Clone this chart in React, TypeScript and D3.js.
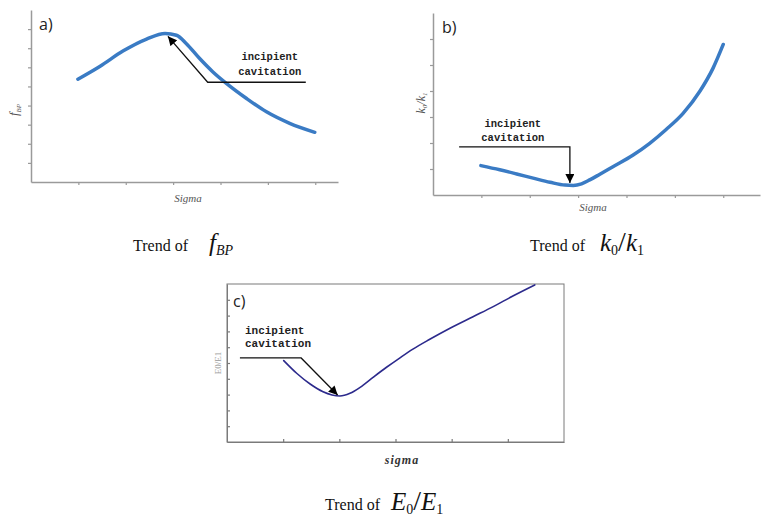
import { useRef, useEffect } from "react";
import * as d3 from "d3";

// panel a: f_BP vs sigma
const A_SIGMA = [0.99, 1.46, 1.94, 2.44, 2.83, 3.07, 3.28, 3.56, 3.84, 4.13, 4.55, 4.97, 5.46, 5.99];
const A_FBP = [5.38, 6.06, 6.85, 7.48, 7.77, 7.68, 7.24, 6.46, 5.76, 5.15, 4.37, 3.67, 3.07, 2.6];
const A_XTICKS = [1, 2, 3, 4, 5, 6];
const A_YTICKS = [1, 2, 3, 4, 5, 6, 7, 8];
const A_ARROW = [[5.8, 5.22], [3.73, 5.22], [2.89, 7.62]];

// panel b: k0/k1 vs sigma
const B_SIGMA = [0.99, 1.38, 1.73, 2.07, 2.42, 2.73, 2.9, 3.07, 3.24, 3.45, 3.72, 4.13, 4.48, 4.82, 5.17, 5.52, 5.79, 6.0];
const B_K = [1.13, 0.97, 0.81, 0.65, 0.49, 0.38, 0.37, 0.43, 0.58, 0.8, 1.09, 1.53, 1.99, 2.52, 3.14, 4.0, 4.88, 5.79];
const B_XTICKS = [1, 2, 3, 4, 5, 6];
const B_YTICKS = [1, 2, 3, 4, 5, 6];
const B_ARROW = [[0.54, 1.85], [2.83, 1.85], [2.83, 0.46]];

// panel c: E0/E1 vs sigma
const C_SIGMA = [1.01, 1.24, 1.48, 1.71, 2.01, 2.19, 2.37, 2.6, 2.84, 3.08, 3.31, 3.61, 3.97, 4.38, 4.74, 5.09, 5.48];
const C_E = [5.15, 4.35, 3.67, 3.18, 2.91, 3.08, 3.46, 4.09, 4.73, 5.33, 5.88, 6.5, 7.2, 7.93, 8.57, 9.24, 9.94];
const C_XTICKS = [1, 2, 3, 4, 5];
const C_YTICKS = [1, 2, 3, 4, 5, 6, 7, 8, 9];
const C_ARROW = [[0.23, 5.32], [1.32, 5.32], [1.97, 2.97]];

const NOTE = ["incipient", "cavitation"];
const SERIF = "'Liberation Serif', 'Times New Roman', serif";
const MONO = "'Liberation Mono', 'DejaVu Sans Mono', monospace";

type Sel = d3.Selection<SVGSVGElement, unknown, null, undefined>;

function panel(
  svg: Sel,
  o: {
    xd: [number, number]; xr: [number, number];
    yd: [number, number]; yr: [number, number];
    xs: number[]; ys: number[]; xt: number[]; yt: number[];
    arrow: number[][]; color: string; width: number; inward: boolean; frame: boolean;
    marker: string;
  }
) {
  const x = d3.scaleLinear().domain(o.xd).range(o.xr);
  const y = d3.scaleLinear().domain(o.yd).range(o.yr);
  const axisColor = o.frame ? "#7a7a7a" : "#9a9a9a";
  const tk = o.inward ? -3 : 3;

  if (o.frame) {
    svg.append("rect").attr("x", o.xr[0]).attr("y", o.yr[1])
      .attr("width", o.xr[1] - o.xr[0]).attr("height", o.yr[0] - o.yr[1])
      .attr("fill", "none").attr("stroke", axisColor).attr("stroke-width", 1);
  }

  const ax = svg.append("g").attr("transform", `translate(0,${o.yr[0]})`)
    .call(d3.axisBottom(x).tickValues(o.xt).tickSize(tk).tickSizeOuter(0).tickFormat(() => ""));
  const ay = svg.append("g").attr("transform", `translate(${o.xr[0]},0)`)
    .call(d3.axisLeft(y).tickValues(o.yt).tickSize(tk).tickSizeOuter(0).tickFormat(() => ""));
  [ax, ay].forEach((a) => {
    a.select(".domain").attr("stroke", axisColor).attr("stroke-width", o.frame ? 1 : 1.5);
    a.selectAll("line").attr("stroke", axisColor).attr("stroke-width", 1.2);
  });

  const line = d3.line<number>().x((_, i) => x(o.xs[i])).y((d) => y(d)).curve(d3.curveMonotoneX);
  svg.append("path").datum(o.ys).attr("d", line).attr("fill", "none")
    .attr("stroke", o.color).attr("stroke-width", o.width).attr("stroke-linecap", "round");

  svg.append("path")
    .attr("d", d3.line()(o.arrow.map((p) => [x(p[0]), y(p[1])] as [number, number])))
    .attr("fill", "none").attr("stroke", "#111").attr("stroke-width", 1.3)
    .attr("marker-end", `url(#${o.marker})`);
  return { x, y };
}

export default function App() {
  const ref = useRef<SVGSVGElement>(null);

  useEffect(() => {
    if (!ref.current) return;
    const svg = d3.select(ref.current);
    svg.selectAll("*").remove();

    const defs = svg.append("defs");
    ["arrA", "arrB", "arrC"].forEach((id) => {
      defs.append("marker").attr("id", id).attr("viewBox", "0 -5 10 10").attr("refX", 10).attr("refY", 0)
        .attr("markerUnits", "userSpaceOnUse").attr("markerWidth", 10).attr("markerHeight", 9)
        .attr("orient", "auto").append("path").attr("d", "M0,-5L10,0L0,5Z").attr("fill", "#000");
    });

    // a)
    const a = panel(svg, {
      xd: [0, 6.48], xr: [31, 338], yd: [0, 9], yr: [182, 10],
      xs: A_SIGMA, ys: A_FBP, xt: A_XTICKS, yt: A_YTICKS, arrow: A_ARROW,
      color: "#3a7bc4", width: 3.5, inward: false, frame: false, marker: "arrA",
    });
    NOTE.forEach((t, i) => {
      svg.append("text").attr("x", a.x(5.04)).attr("y", a.y([6.37, 5.59][i]))
        .attr("text-anchor", "middle").attr("font-family", MONO).attr("font-size", 10.5)
        .attr("font-weight", "bold").attr("fill", "#222").text(t);
    });
    svg.append("text").attr("x", 39).attr("y", 30).attr("font-family", "'Open Sans', sans-serif")
      .attr("font-size", 16).attr("fill", "#222").text("a)");
    svg.append("text").attr("x", 188).attr("y", 202).attr("text-anchor", "middle")
      .attr("font-family", SERIF).attr("font-style", "italic").attr("font-size", 11).attr("fill", "#555").text("Sigma");
    const fa = svg.append("text").attr("transform", "translate(18,110) rotate(-90)").attr("text-anchor", "middle")
      .attr("font-family", SERIF).attr("font-style", "italic").attr("font-size", 13).attr("fill", "#555");
    fa.append("tspan").text("f");
    fa.append("tspan").attr("font-size", 7).attr("dy", 3).text("BP");

    // b)
    const b = panel(svg, {
      xd: [0, 6.76], xr: [433, 760], yd: [0, 7], yr: [195, 13],
      xs: B_SIGMA, ys: B_K, xt: B_XTICKS, yt: B_YTICKS, arrow: B_ARROW,
      color: "#3a7bc4", width: 3.5, inward: false, frame: false, marker: "arrB",
    });
    NOTE.forEach((t, i) => {
      svg.append("text").attr("x", b.x(1.65)).attr("y", b.y([2.62, 2.08][i]))
        .attr("text-anchor", "middle").attr("font-family", MONO).attr("font-size", 10.5)
        .attr("font-weight", "bold").attr("fill", "#222").text(t);
    });
    svg.append("text").attr("x", 442).attr("y", 33).attr("font-family", "'Open Sans', sans-serif")
      .attr("font-size", 16).attr("fill", "#222").text("b)");
    svg.append("text").attr("x", 593).attr("y", 211).attr("text-anchor", "middle")
      .attr("font-family", SERIF).attr("font-style", "italic").attr("font-size", 11).attr("fill", "#555").text("Sigma");
    const kb = svg.append("text").attr("transform", "translate(425,103) rotate(-90)").attr("text-anchor", "middle")
      .attr("font-family", SERIF).attr("font-style", "italic").attr("font-size", 12).attr("fill", "#555");
    kb.append("tspan").text("k");
    kb.append("tspan").attr("font-size", 7).attr("dy", 2).text("0");
    kb.append("tspan").attr("dy", -2).text("/k");
    kb.append("tspan").attr("font-size", 7).attr("dy", 2).text("1");

    // c)
    const c = panel(svg, {
      xd: [0, 6], xr: [227, 564], yd: [0, 10], yr: [442, 284],
      xs: C_SIGMA, ys: C_E, xt: C_XTICKS, yt: C_YTICKS, arrow: C_ARROW,
      color: "#2c2a8c", width: 1.6, inward: true, frame: true, marker: "arrC",
    });
    NOTE.forEach((t, i) => {
      svg.append("text").attr("x", c.x(0.32)).attr("y", c.y([6.84, 6.01][i]))
        .attr("font-family", MONO).attr("font-size", 11)
        .attr("font-weight", "bold").attr("fill", "#222").text(t);
    });
    svg.append("text").attr("x", 233).attr("y", 307).attr("font-family", "'Open Sans', sans-serif")
      .attr("font-size", 16).attr("fill", "#222").text("c)");
    svg.append("text").attr("x", 402).attr("y", 464).attr("text-anchor", "middle").attr("letter-spacing", 1)
      .attr("font-family", SERIF).attr("font-style", "italic").attr("font-weight", "bold")
      .attr("font-size", 12).attr("fill", "#333").text("sigma");
    svg.append("text").attr("transform", "translate(221,363) rotate(-90)").attr("text-anchor", "middle")
      .attr("font-family", SERIF).attr("font-size", 9).attr("fill", "#999").text("E0/E1");

    // captions
    const caption = (x0: number, base: number, fx: number, parts: [string, boolean][]) => {
      svg.append("text").attr("x", x0).attr("y", base).attr("font-family", SERIF)
        .attr("font-size", 16).attr("fill", "#111").text("Trend of");
      const t = svg.append("text").attr("x", fx).attr("y", base).attr("font-family", SERIF)
        .attr("font-style", "italic").attr("font-size", 25).attr("fill", "#111");
      let down = false;
      parts.forEach(([s, sub]) => {
        const sp = t.append("tspan").text(s);
        if (sub) { sp.attr("font-size", 14).attr("font-style", /\d/.test(s) ? "normal" : "italic"); }
        if (sub !== down) { sp.attr("dy", sub ? 4 : -4); down = sub; }
        if (s === "/") sp.attr("font-style", "normal").attr("font-size", 28);
      });
    };
    caption(133, 251, 209, [["f", false], ["BP", true]]);
    caption(530, 251, 600, [["k", false], ["0", true], ["/", false], ["k", false], ["1", true]]);
    caption(325, 510, 391, [["E", false], ["0", true], ["/", false], ["E", false], ["1", true]]);
  }, []);

  return (
    <svg ref={ref} width={762} height={517}
      style={{ display: "block", position: "absolute", left: 0, top: 0, background: "#fff" }} />
  );
}
